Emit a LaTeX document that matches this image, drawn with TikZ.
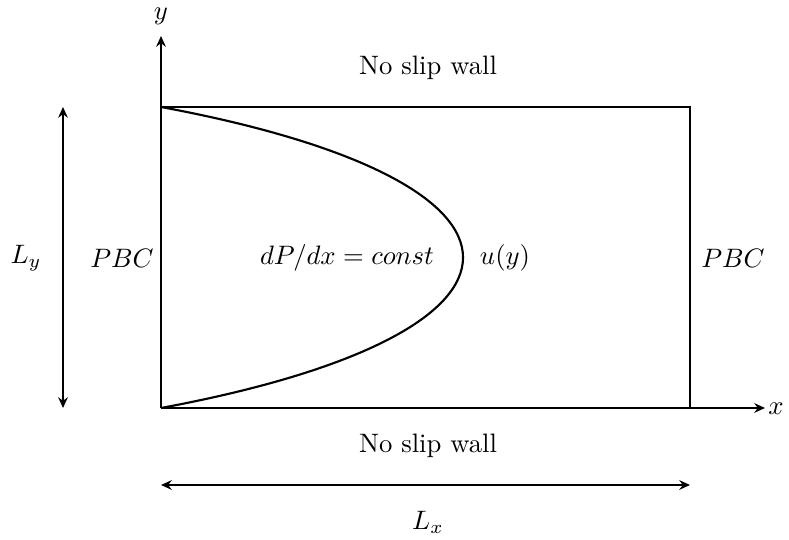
\documentclass[tikz,border=0pt]{standalone}
\usetikzlibrary{arrows.meta}
\begin{document}
\begin{tikzpicture}[x=0.375pt,y=-0.375pt,
  tip/.style={-{Stealth[length=4pt,width=3.6pt]}},
  dtip/.style={{Stealth[length=4pt,width=3.6pt]}-{Stealth[length=4pt,width=3.6pt]}},
  wall/.style={line width=0.8pt},
  axis/.style={line width=1pt,tip},
  dim/.style={line width=0.6pt,dtip},
  lbl/.style={inner sep=0pt}]
\useasboundingbox (0,0) rectangle (789,540);
\coordinate (o) at (161,408);
\coordinate (tl) at (161,107);
\coordinate (tr) at (690,107);
\coordinate (br) at (690,408);
\coordinate (ytop) at (161,36);
\coordinate (xend) at (765,408);
\coordinate (lxl) at (161,485);
\coordinate (lxr) at (690,485);
\coordinate (lyt) at (63,107);
\coordinate (lyb) at (63,408);
% box
\draw[wall] (tl) -- (tr) -- (br);
% axes
\draw[axis] (o) -- (ytop);
\draw[axis] (o) -- (xend);
% profile
\draw[wall] (tl) .. controls (563.7,182) and (563.7,333) .. (o);
% dimension arrows
\draw[dim] (lxl) -- (lxr);
\draw[dim] (lyt) -- (lyb);
% labels
\node[lbl] (ylab) at (161,16) {$y$};
\node[lbl] (xlab) at (776,409) {$x$};
\node[lbl] (topwall) at (428,68) {No slip wall};
\node[lbl] (botwall) at (428,446) {No slip wall};
\node[lbl] (Lx) at (428,522) {$L_x$};
\node[lbl] (Ly) at (26,258) {$L_y$};
\node[lbl] (pbcl) at (122,258) {$PBC$};
\node[lbl] (pbcr) at (733,258) {$PBC$};
\node[lbl] (dpdx) at (347,258) {$dP/dx=const$};
\node[lbl] (uy) at (505,258) {$u(y)$};
\end{tikzpicture}
\end{document}
